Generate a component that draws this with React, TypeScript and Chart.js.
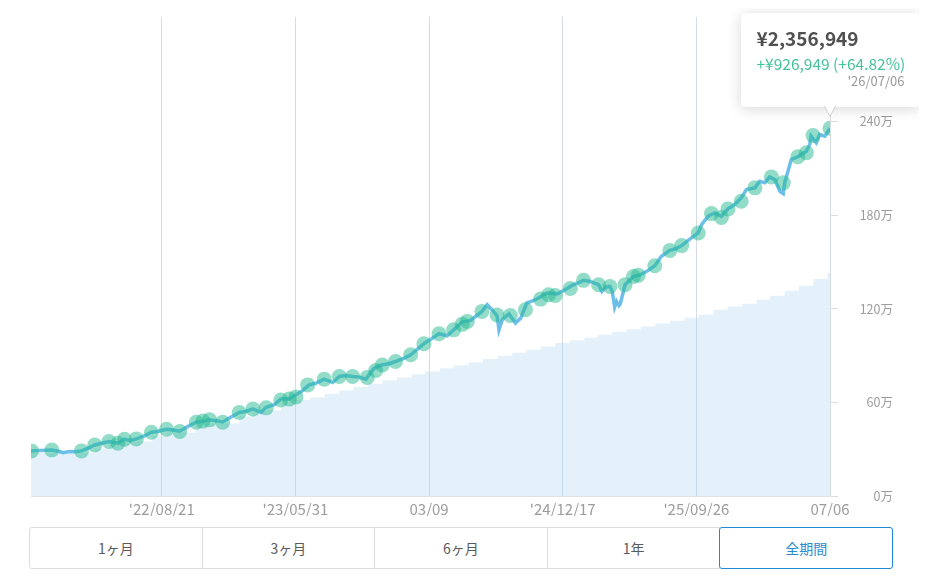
import React, { useEffect, useRef, useState } from 'react';
import { Chart, registerables } from 'chart.js';

Chart.register(...registerables);

// ---------- data ----------
const startDate = '2021-11-17';
const endDate = '2026-07-06';

const xTickDates = ['2022-08-21', '2023-05-31', '2024-03-09', '2024-12-17', '2025-09-26', '2026-07-06'];
const xTickLabels = ["'22/08/21", "'23/05/31", '03/09', "'24/12/17", "'25/09/26", '07/06'];
const yTickMan = [0, 60, 120, 180, 240];

// valuation line (days since start, 万円)
const valueDays = [
  0, 20, 44, 60, 68, 82, 95, 107, 120, 135, 150, 165, 184, 198, 210, 223, 240, 255, 270, 287,
  300, 315, 332, 350, 364, 378, 392, 406, 420, 441, 455, 470, 487, 498, 515, 529, 547, 561, 575, 589,
  605, 621, 639, 653, 667, 681, 695, 709, 718, 727, 744, 758, 772, 788, 804, 818, 832, 850, 864, 881,
  895, 913, 931, 943, 955, 966, 976, 987, 991, 998, 1012, 1026, 1037, 1050, 1062, 1075, 1093, 1114, 1131, 1145,
  1158, 1170, 1184, 1202, 1209, 1218, 1226, 1231, 1236, 1240, 1245, 1248, 1258, 1276, 1290, 1304, 1321, 1335, 1353, 1366,
  1378, 1395, 1413, 1420, 1434, 1448, 1462, 1476, 1490, 1504, 1515, 1533, 1543, 1554, 1564, 1575, 1586, 1593, 1596, 1603,
  1610, 1624, 1642, 1649, 1652, 1663, 1670, 1681, 1692,
];
const valueMan = [
  28.9, 29.2, 29.5, 28.5, 27.8, 28.5, 28.3, 28.9, 30.5, 32.7, 33.8, 34.9, 33.8, 36.4, 35.5, 36.6, 38.5, 40.9, 41.5, 42.8,
  42.3, 41.5, 44.5, 47.3, 48.0, 48.8, 48.2, 47.5, 50.0, 53.5, 54.2, 55.8, 53.5, 56.9, 58.5, 62.1, 62.1, 64.8, 67.5, 71.2,
  72.5, 74.9, 72.7, 76.6, 77.2, 76.6, 76.2, 74.9, 78.5, 82.0, 84.1, 84.8, 86.2, 88.0, 90.5, 94.0, 97.6, 101.2, 104.0, 102.7,
  106.5, 111.5, 112.5, 115.5, 118.3, 122.6, 119.4, 115.5, 106.5, 113.0, 116.8, 110.8, 114.0, 123.7, 125.0, 126.9, 130.1, 129.5, 132.2, 134.8,
  136.5, 138.2, 137.5, 135.4, 131.1, 134.0, 134.3, 131.1, 121.1, 124.7, 122.0, 123.2, 135.4, 140.7, 141.8, 144.0, 147.6, 153.6, 157.4, 158.5,
  160.5, 164.7, 168.6, 173.9, 179.3, 181.4, 179.3, 184.0, 186.8, 191.0, 196.4, 197.5, 201.7, 200.7, 204.5, 202.8, 195.3, 193.8, 200.7, 208.1,
  215.7, 217.4, 221.0, 225.3, 230.6, 226.4, 231.7, 230.6, 235.6949,
];

// transaction dots (days since start, 万円)
const dotDays = [
  1, 44, 107, 135, 165, 184, 198, 223, 255, 287, 315, 350, 364, 378, 406, 441, 470, 498, 529, 547,
  561, 586, 621, 653, 681, 712, 730, 744, 772, 804, 832, 864, 895, 913, 924, 955, 987, 1015, 1047, 1079,
  1096, 1110, 1142, 1170, 1202, 1226, 1258, 1276, 1286, 1321, 1353, 1378, 1413, 1441, 1462, 1476, 1504, 1533, 1568, 1593,
  1624, 1642, 1656, 1692,
];
const dotMan = [
  28.9, 29.5, 28.9, 32.7, 34.9, 33.8, 36.4, 36.6, 40.9, 42.8, 41.3, 47.3, 48.0, 48.8, 47.3, 53.5, 55.8, 56.5, 61.5, 62.1,
  63.5, 71.2, 74.9, 76.6, 76.6, 76.0, 80.4, 84.0, 86.2, 90.5, 97.6, 104.0, 106.5, 110.0, 111.9, 118.3, 116.0, 115.7, 119.4, 126.2,
  129.0, 128.5, 133.0, 138.2, 135.4, 134.3, 135.4, 140.7, 141.5, 147.6, 157.4, 160.5, 168.6, 181.0, 178.5, 184.0, 188.9, 197.5, 204.5, 200.7,
  217.4, 220.0, 231.0, 235.6949,
];

// invested amount, monthly steps (万円)
const investDates = [
  '2021-11-17', '2021-12-01', '2022-01-01', '2022-02-01', '2022-03-01', '2022-04-01', '2022-05-01', '2022-06-01',
  '2022-07-01', '2022-08-01', '2022-09-01', '2022-10-01', '2022-11-01', '2022-12-01', '2023-01-01', '2023-02-01',
  '2023-03-01', '2023-04-01', '2023-05-01', '2023-06-01', '2023-07-01', '2023-08-01', '2023-09-01', '2023-10-01',
  '2023-11-01', '2023-12-01', '2024-01-01', '2024-02-01', '2024-03-01', '2024-04-01', '2024-05-01', '2024-06-01',
  '2024-07-01', '2024-08-01', '2024-09-01', '2024-10-01', '2024-11-01', '2024-12-01', '2025-01-01', '2025-02-01',
  '2025-03-01', '2025-04-01', '2025-05-01', '2025-06-01', '2025-07-01', '2025-08-01', '2025-09-01', '2025-10-01',
  '2025-11-01', '2025-12-01', '2026-01-01', '2026-02-01', '2026-03-01', '2026-04-01', '2026-05-01', '2026-06-01',
  '2026-07-01', '2026-07-06',
];
const investMan = [
  27.5, 27.5, 27.5, 27.0, 27.5, 30.5, 33.0, 34.5, 35.0, 38.5, 40.5, 40.5, 45.0, 46.5, 46.5, 51.0,
  53.5, 55.0, 59.5, 61.6, 63.3, 65.5, 67.6, 69.8, 72.0, 74.0, 76.0, 78.0, 79.8, 81.8, 83.8, 85.8,
  87.8, 89.8, 91.8, 93.8, 95.8, 98.0, 99.7, 101.5, 103.3, 105.1, 106.9, 108.7, 110.5, 112.3, 114.2, 116.2,
  119.4, 121.5, 123.2, 125.8, 128.4, 131.6, 134.8, 139.1, 143.0, 143.0,
];

const rangeButtons = ['1ヶ月', '3ヶ月', '6ヶ月', '1年', '全期間'];
const selectedRange = 4;

// ---------- helpers ----------
const MAN = 10000;
const dayOf = (d: string) => Math.round((Date.parse(d) - Date.parse(startDate)) / 86400000);
const fmtYen = (v: number) => '¥' + Math.round(v).toLocaleString('en-US');
const FONT = '"Noto Sans CJK JP", "Noto Sans", sans-serif';

export default function App() {
  const canvasRef = useRef<HTMLCanvasElement>(null);
  const [tip, setTip] = useState<{ x: number; y: number } | null>(null);

  const lastValue = valueMan[valueMan.length - 1] * MAN;
  const invested = investMan[investMan.length - 1] * MAN;
  const gain = lastValue - invested;
  const pct = (gain / invested) * 100;
  const endLabel = "'" + endDate.slice(2).replace(/-/g, '/');

  useEffect(() => {
    const canvas = canvasRef.current;
    if (!canvas) return;
    Chart.defaults.font.family = FONT;
    const xTickDays = xTickDates.map(dayOf);
    const chart = new Chart(canvas, {
      type: 'line',
      data: {
        datasets: [
          {
            label: 'dots',
            data: dotDays.map((d, i) => ({ x: d, y: dotMan[i] * MAN })),
            showLine: false,
            pointRadius: 7.5,
            pointHoverRadius: 7.5,
            pointBackgroundColor: 'rgba(38,186,146,0.5)',
            pointBorderWidth: 0,
            order: 0,
          },
          {
            label: 'value',
            data: valueDays.map((d, i) => ({ x: d, y: valueMan[i] * MAN })),
            borderColor: '#6dbfea',
            borderWidth: 3.5,
            pointRadius: 0,
            tension: 0,
            fill: false,
            order: 1,
          },
          {
            label: 'invested',
            data: investDates.map((d, i) => ({ x: dayOf(d), y: investMan[i] * MAN })),
            stepped: 'before',
            borderWidth: 0,
            borderColor: 'rgba(0,0,0,0)',
            backgroundColor: 'rgba(170,210,238,0.32)',
            pointRadius: 0,
            fill: 'origin',
            order: 2,
          },
        ],
      },
      options: {
        animation: false,
        responsive: false,
        events: [],
        layout: { autoPadding: false, padding: { left: 23, right: 10, top: 9, bottom: 0 } },
        plugins: { legend: { display: false }, tooltip: { enabled: false } },
        scales: {
          x: {
            type: 'linear',
            min: 0,
            max: dayOf(endDate),
            afterBuildTicks: (scale: any) => {
              scale.ticks = xTickDays.map((v) => ({ value: v }));
            },
            afterFit: (scale: any) => {
              scale.height = 20;
              scale.paddingLeft = 0;
              scale.paddingRight = 0;
            },
            grid: { color: '#d5dce2', lineWidth: 1, drawTicks: false },
            border: { display: true, color: '#e1e1e1' },
            ticks: {
              autoSkip: false,
              maxRotation: 0,
              padding: 4,
              color: '#9c9c9c',
              font: { size: 15, family: FONT },
              callback: (_v: any, i: number) => xTickLabels[i],
            },
          },
          y: {
            position: 'right',
            min: 0,
            max: 3070000,
            afterBuildTicks: (scale: any) => {
              scale.ticks = yTickMan.map((v) => ({ value: v * MAN }));
            },
            afterFit: (scale: any) => {
              scale.width = 63;
              scale.paddingTop = 0;
              scale.paddingBottom = 0;
            },
            grid: { drawOnChartArea: false, drawTicks: true, tickLength: 8, color: '#dddddd' },
            border: { display: false },
            ticks: {
              crossAlign: 'far',
              padding: 22,
              color: '#9c9c9c',
              font: { size: 12.5, family: FONT },
              callback: (v: any) => Math.round(Number(v) / MAN) + '万',
            },
          },
        },
      },
    } as any);
    const meta = chart.getDatasetMeta(1);
    const el: any = meta.data[meta.data.length - 1];
    if (el) setTip({ x: el.x, y: el.y });
    return () => chart.destroy();
  }, []);

  const boxW = 179;
  const boxH = 94;

  return (
    <div style={{ position: 'relative', width: 895, height: 561, fontFamily: FONT }}>
      <canvas
        ref={canvasRef}
        width={895}
        height={508}
        style={{ display: 'block', width: 895, height: 508 }}
      />
      {tip && (
        <>
          <div
            style={{
              position: 'absolute',
              left: tip.x - boxW / 2,
              top: tip.y - 21 - boxH,
              width: boxW,
              height: boxH,
              boxSizing: 'border-box',
              background: '#fff',
              borderRadius: 4,
              boxShadow: '0 2px 14px rgba(0,0,0,0.16)',
              padding: '12px 15px 0 16px',
              whiteSpace: 'nowrap',
            }}
          >
            <div style={{ fontSize: 19, fontWeight: 700, lineHeight: '26px', color: '#505050' }}>
              {fmtYen(lastValue)}
            </div>
            <div style={{ fontSize: 15.5, lineHeight: '20px', marginTop: 2, color: '#45c29c' }}>
              {'+' + fmtYen(gain) + ' (+' + pct.toFixed(2) + '%)'}
            </div>
            <div style={{ fontSize: 13, lineHeight: '16px', color: '#9a9a9a', textAlign: 'right' }}>
              {endLabel}
            </div>
          </div>
          <svg width={12} height={12} style={{ position: 'absolute', left: tip.x - 6, top: tip.y - 22 }}>
            <polyline points="0.5,0 6,10.5 11.5,0" fill="#fff" stroke="#cfcfcf" strokeWidth={1} />
          </svg>
        </>
      )}
      <div style={{ position: 'absolute', left: 21, top: 519, width: 864, height: 42, display: 'flex' }}>
        {rangeButtons.map((b, i) => {
          const sel = i === selectedRange;
          return (
            <div
              key={b}
              style={{
                flex: 1,
                marginLeft: i === 0 ? 0 : -1,
                boxSizing: 'border-box',
                border: '1px solid ' + (sel ? '#1f8bd2' : '#dddddd'),
                borderRadius: sel ? 3 : i === 0 ? '3px 0 0 3px' : 0,
                position: 'relative',
                zIndex: sel ? 1 : 0,
                display: 'flex',
                alignItems: 'center',
                justifyContent: 'center',
                fontSize: 14,
                color: sel ? '#2a8bd0' : '#5a5a5a',
                background: '#fff',
              }}
            >
              {b}
            </div>
          );
        })}
      </div>
    </div>
  );
}
